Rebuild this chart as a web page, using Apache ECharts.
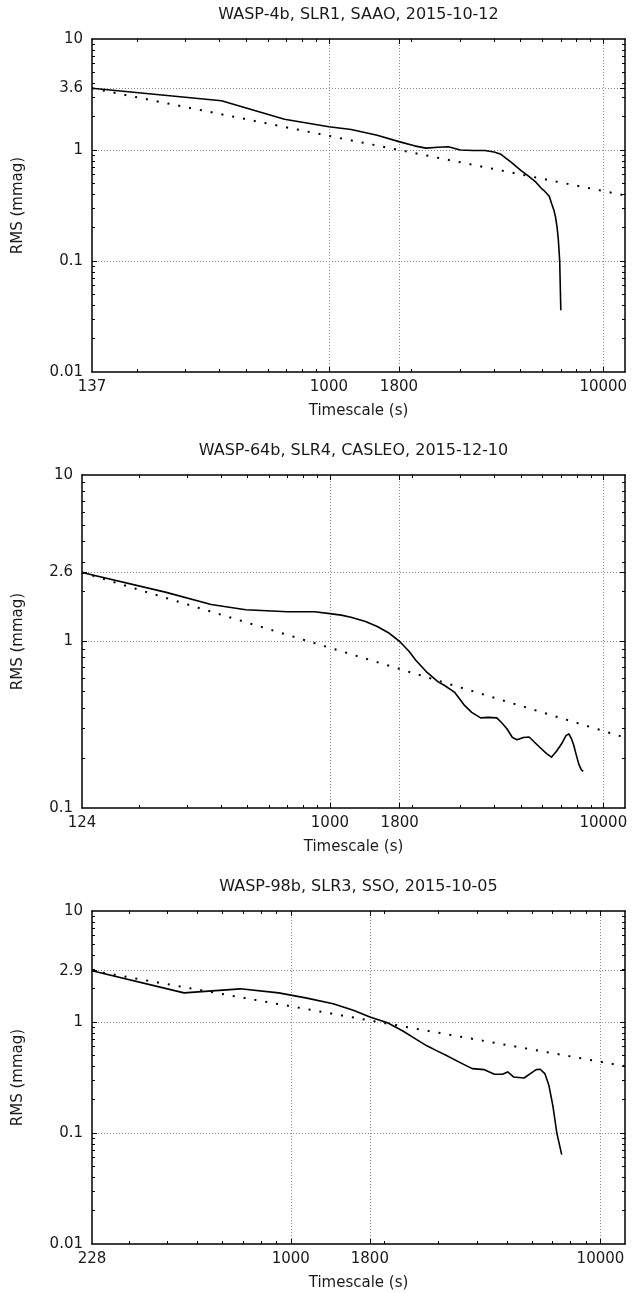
<!DOCTYPE html>
<html>
<head>
<meta charset="utf-8">
<script src="https://cdn.jsdelivr.net/npm/echarts@6/dist/echarts.min.js"></script>
<style>
html,body{margin:0;padding:0;background:#fff;}
#chart{width:633px;height:1293px;}
</style>
</head>
<body>
<div id="chart"></div>
<script>
// ---------- DATA ----------
const TITLES = [
  'WASP-4b, SLR1, SAAO, 2015-10-12',
  'WASP-64b, SLR4, CASLEO, 2015-12-10',
  'WASP-98b, SLR3, SSO, 2015-10-05'
];
const X_NAME = 'Timescale (s)';
const Y_NAME = 'RMS (mmag)';

// Panel 1: WASP-4b
const P1_TIME = [137, 406, 689, 1000, 1206, 1500, 1800, 2050, 2259, 2500, 2725, 3015, 3350, 3697, 4000, 4236, 4600, 5018, 5370, 5650, 5945, 6053, 6200, 6366, 6476, 6600, 6694, 6790, 6859, 6937, 7003];
const P1_RMS  = [3.6, 2.78, 1.89, 1.62, 1.53, 1.36, 1.19, 1.09, 1.04, 1.06, 1.07, 1.0, 0.99, 0.99, 0.96, 0.914, 0.78, 0.652, 0.575, 0.52, 0.452, 0.436, 0.41, 0.38, 0.331, 0.29, 0.251, 0.2, 0.155, 0.1, 0.036];
const P1_FIT_TIME = [137, 12000];
const P1_FIT_RMS  = [3.6, 0.39];
const P1_X_TICKS = [137, 1000, 1800, 10000];
const P1_Y_TICKS = [0.01, 0.1, 1, 3.6, 10];

// Panel 2: WASP-64b
const P2_TIME = [124, 250, 368, 492, 700, 879, 1000, 1100, 1194, 1350, 1490, 1650, 1800, 1950, 2061, 2250, 2488, 2619, 2853, 3107, 3300, 3558, 3800, 4077, 4250, 4439, 4650, 4835, 5100, 5354, 5650, 5932, 6200, 6459, 6750, 7035, 7300, 7480, 7650, 7795, 7950, 8127, 8300, 8440];
const P2_RMS  = [2.6, 1.98, 1.67, 1.55, 1.51, 1.51, 1.47, 1.44, 1.40, 1.32, 1.23, 1.12, 1.0, 0.87, 0.772, 0.66, 0.572, 0.546, 0.497, 0.413, 0.375, 0.348, 0.35, 0.348, 0.325, 0.299, 0.265, 0.257, 0.265, 0.267, 0.245, 0.227, 0.212, 0.202, 0.22, 0.243, 0.272, 0.279, 0.26, 0.238, 0.21, 0.184, 0.17, 0.166];
const P2_FIT_TIME = [124, 12000];
const P2_FIT_RMS  = [2.6, 0.265];
const P2_X_TICKS = [124, 1000, 1800, 10000];
const P2_Y_TICKS = [0.1, 1, 2.6, 10];

// Panel 3: WASP-98b
const P3_TIME = [228, 452, 687, 914, 1127, 1370, 1600, 1800, 2053, 2300, 2535, 2750, 2987, 3171, 3575, 3853, 4217, 4545, 4825, 5018, 5238, 5664, 6000, 6199, 6386, 6612, 6813, 7016, 7228, 7494];
const P3_RMS  = [2.9, 1.83, 1.99, 1.83, 1.64, 1.46, 1.27, 1.11, 0.986, 0.83, 0.70, 0.61, 0.544, 0.501, 0.422, 0.38, 0.372, 0.338, 0.338, 0.355, 0.32, 0.313, 0.35, 0.372, 0.375, 0.343, 0.269, 0.177, 0.1, 0.0638];
const P3_FIT_TIME = [228, 12000];
const P3_FIT_RMS  = [2.9, 0.40];
const P3_X_TICKS = [228, 1000, 1800, 10000];
const P3_Y_TICKS = [0.01, 0.1, 1, 2.9, 10];

const X_MAX = 12000;
const X_MINOR_TICKS = [200, 300, 400, 500, 600, 700, 800, 900, 2000, 3000, 4000, 5000, 6000, 7000, 8000, 9000];
const Y_MINOR_TICKS = [0.02, 0.03, 0.04, 0.05, 0.06, 0.07, 0.08, 0.09,
                       0.2, 0.3, 0.4, 0.5, 0.6, 0.7, 0.8, 0.9,
                       2, 3, 4, 5, 6, 7, 8, 9];

// ---------- LAYOUT / STYLE ----------
const LAYOUT = [
  {left: 92, top: 39, width: 533, height: 333, yNameGap: 66},
  {left: 82, top: 475, width: 543, height: 333, yNameGap: 56},
  {left: 92, top: 911, width: 533, height: 333, yNameGap: 66}
];
const FONT = 'DejaVu Sans';
const TEXT = '#1a1a1a';
const BORDER = {color: '#000', width: 1.5};
const GRIDLINE = {color: '#8c8c8c', width: 1, type: [1, 2]};

const PANELS = [
  {title: TITLES[0], t: P1_TIME, v: P1_RMS, ft: P1_FIT_TIME, fv: P1_FIT_RMS, xt: P1_X_TICKS, yt: P1_Y_TICKS},
  {title: TITLES[1], t: P2_TIME, v: P2_RMS, ft: P2_FIT_TIME, fv: P2_FIT_RMS, xt: P2_X_TICKS, yt: P2_Y_TICKS},
  {title: TITLES[2], t: P3_TIME, v: P3_RMS, ft: P3_FIT_TIME, fv: P3_FIT_RMS, xt: P3_X_TICKS, yt: P3_Y_TICKS}
];

function fmt(v) { return String(Number((+v).toPrecision(6))); }

const grids = [], titles = [], xAxes = [], yAxes = [], series = [];

PANELS.forEach(function (d, i) {
  const L = LAYOUT[i];
  grids.push({left: L.left, top: L.top, width: L.width, height: L.height, containLabel: false, outerBoundsMode: 'none'});
  titles.push({
    text: d.title, left: L.left + L.width / 2, top: L.top - 32, textAlign: 'center', padding: 0,
    textStyle: {fontFamily: FONT, fontSize: 16, fontWeight: 'normal', color: TEXT}
  });
  const xMin = d.xt[0], xMax = X_MAX;
  const yMin = d.yt[0], yMax = d.yt[d.yt.length - 1];
  const xInner = d.xt.filter(v => v > xMin && v < xMax);
  const yInner = d.yt.filter(v => v > yMin && v < yMax);

  function ax(extra, min, max) {
    return Object.assign({
      type: 'log', logBase: 10, gridIndex: i, min: min, max: max,
      axisLine: {show: false, onZero: false},
      axisTick: {show: false},
      axisLabel: {show: false},
      splitLine: {show: false},
      minorTick: {show: false}
    }, extra);
  }
  const labelStyle = {fontFamily: FONT, fontSize: 15, color: TEXT};

  const xMainIdx = xAxes.length;
  xAxes.push(ax({
    position: 'bottom',
    axisLine: {show: true, onZero: false, lineStyle: BORDER},
    axisTick: {show: true, inside: true, length: 5, customValues: xInner, lineStyle: {color: '#000', width: 1}},
    axisLabel: Object.assign({show: true, customValues: d.xt, formatter: fmt, margin: 8}, labelStyle),
    name: X_NAME, nameLocation: 'middle', nameGap: 32,
    nameTextStyle: {fontFamily: FONT, fontSize: 15, color: TEXT}
  }, xMin, xMax));
  xAxes.push(ax({position: 'bottom',
    axisTick: {show: true, inside: true, length: 3, customValues: X_MINOR_TICKS, lineStyle: {color: '#000', width: 1}}}, xMin, xMax));
  xAxes.push(ax({position: 'top',
    axisLine: {show: true, onZero: false, lineStyle: BORDER},
    axisTick: {show: true, inside: true, length: 5, customValues: xInner, lineStyle: {color: '#000', width: 1}},
    splitLine: {show: true, lineStyle: GRIDLINE}}, xMin, xMax));
  xAxes.push(ax({position: 'top',
    axisTick: {show: true, inside: true, length: 3, customValues: X_MINOR_TICKS, lineStyle: {color: '#000', width: 1}}}, xMin, xMax));

  const yMainIdx = yAxes.length;
  yAxes.push(ax({
    position: 'left',
    axisLine: {show: true, onZero: false, lineStyle: BORDER},
    axisTick: {show: true, inside: true, length: 5, customValues: yInner, lineStyle: {color: '#000', width: 1}},
    axisLabel: Object.assign({show: true, customValues: d.yt, formatter: fmt, margin: 9}, labelStyle),
    name: Y_NAME, nameLocation: 'middle', nameGap: L.yNameGap,
    nameTextStyle: {fontFamily: FONT, fontSize: 15, color: TEXT}
  }, yMin, yMax));
  yAxes.push(ax({position: 'left',
    axisTick: {show: true, inside: true, length: 3, customValues: Y_MINOR_TICKS, lineStyle: {color: '#000', width: 1}}}, yMin, yMax));
  yAxes.push(ax({position: 'right',
    axisLine: {show: true, onZero: false, lineStyle: BORDER},
    axisTick: {show: true, inside: true, length: 5, customValues: yInner, lineStyle: {color: '#000', width: 1}},
    splitLine: {show: true, lineStyle: GRIDLINE}}, yMin, yMax));
  yAxes.push(ax({position: 'right',
    axisTick: {show: true, inside: true, length: 3, customValues: Y_MINOR_TICKS, lineStyle: {color: '#000', width: 1}}}, yMin, yMax));

  series.push({
    type: 'line', xAxisIndex: xMainIdx, yAxisIndex: yMainIdx,
    data: d.ft.map((t, k) => [t, d.fv[k]]),
    showSymbol: false, symbol: 'none', silent: true, z: 3,
    lineStyle: {color: '#000', width: 2, type: [2, 9]}
  });
  series.push({
    type: 'line', xAxisIndex: xMainIdx, yAxisIndex: yMainIdx,
    data: d.t.map((t, k) => [t, d.v[k]]),
    showSymbol: false, symbol: 'none', silent: true, z: 4,
    lineStyle: {color: '#000', width: 1.6, join: 'round'}
  });
});

const chart = echarts.init(document.getElementById('chart'), null, {renderer: 'canvas'});
chart.setOption({
  animation: false,
  backgroundColor: '#fff',
  title: titles,
  grid: grids,
  xAxis: xAxes,
  yAxis: yAxes,
  series: series
});
</script>
</body>
</html>
